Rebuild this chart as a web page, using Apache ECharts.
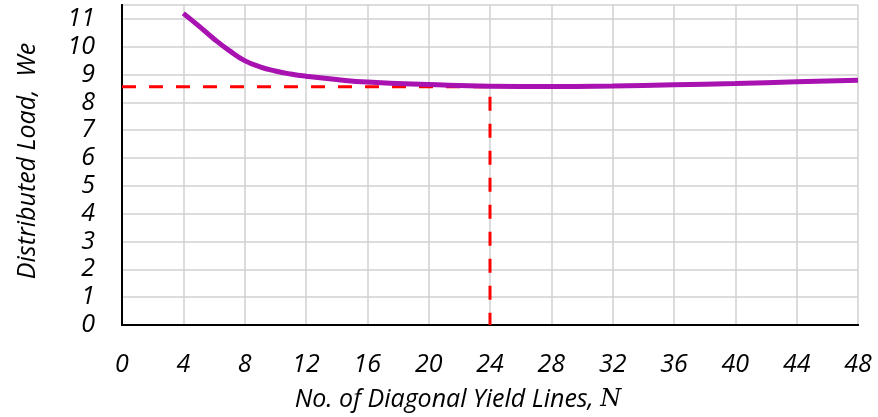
<!DOCTYPE html>
<html>
<head>
<meta charset="utf-8">
<script src="https://cdn.jsdelivr.net/npm/echarts@6/dist/echarts.min.js"></script>
<style>
  html, body { margin: 0; padding: 0; background: #fff; }
  #chart { width: 878px; height: 417px; }
</style>
</head>
<body>
<div id="chart"></div>
<script>
// curve
var nValues = [4, 5, 6, 7, 8, 9, 10, 11, 12, 14, 16, 20, 24, 28, 32, 36, 40, 44, 48];
var loadValues = [11.2, 10.75, 10.28, 9.86, 9.5, 9.28, 9.13, 9.02, 8.94, 8.82, 8.73, 8.64, 8.58, 8.57, 8.59, 8.63, 8.68, 8.74, 8.8];
// optimum marker (red dashed guide)
var optimumN = 24;
var optimumLoad = 8.56;

var curve = nValues.map(function (n, i) { return [n, loadValues[i]]; });
var guide = [[0, optimumLoad], [optimumN, optimumLoad], [optimumN, 0]];

var font = "'Open Sans', 'Noto Sans', sans-serif";
var frame = { show: true, lineStyle: { color: "#000", width: 2 } };
var chart = echarts.init(document.getElementById("chart"));
chart.setOption({
  animation: false,
  grid: { left: 122, right: 20, top: 5, bottom: 91, containLabel: false },
  xAxis: [{
    type: "value",
    min: 0, max: 48, interval: 4,
    name: "No. of Diagonal Yield Lines, {n|N}",
    nameLocation: "middle",
    nameGap: 62,
    nameTextStyle: {
      color: "#000", fontSize: 25, fontStyle: "italic", fontFamily: font,
      padding: [0, 64, 0, 0],
      rich: { n: { fontFamily: "'DejaVu Serif', serif", fontStyle: "italic", fontSize: 24, color: "#000" } }
    },
    axisLine: frame,
    axisTick: { show: false },
    axisLabel: { color: "#000", fontSize: 25, fontStyle: "italic", fontFamily: font, margin: 27 },
    splitLine: { show: true, lineStyle: { color: "#d0d0d0", width: 1.5 } }
  }, {
    type: "value", position: "top",
    min: 0, max: 48, interval: 4,
    axisLine: frame, axisTick: { show: false }, axisLabel: { show: false }, splitLine: { show: false }
  }],
  yAxis: [{
    type: "value",
    min: 0, max: 11.5, interval: 1,
    name: "Distributed Load,  We",
    nameLocation: "middle",
    nameGap: 82,
    nameTextStyle: { color: "#000", fontSize: 25, fontStyle: "italic", fontFamily: font, padding: [0, 0, 0, 8] },
    axisLine: frame,
    axisTick: { show: false },
    axisLabel: { color: "#000", fontSize: 25, fontStyle: "italic", fontFamily: font, margin: 27, showMaxLabel: false },
    splitLine: { show: true, lineStyle: { color: "#d0d0d0", width: 1.5 } }
  }, {
    type: "value", position: "right",
    min: 0, max: 11.5, interval: 1,
    axisLine: frame, axisTick: { show: false }, axisLabel: { show: false }, splitLine: { show: false }
  }],
  series: [
    {
      type: "line",
      data: guide,
      symbol: "none",
      z: 3,
      lineStyle: { color: "#ff0000", width: 3, type: [14, 13] }
    },
    {
      type: "line",
      data: curve,
      smooth: 0.5,
      symbol: "none",
      z: 4,
      lineStyle: { color: "#a712b0", width: 5 }
    }
  ]
});
</script>
</body>
</html>
